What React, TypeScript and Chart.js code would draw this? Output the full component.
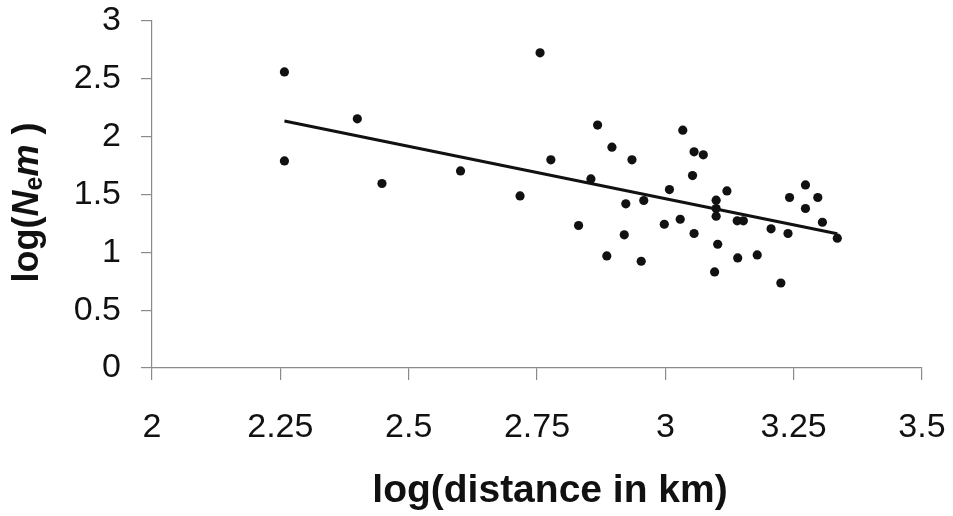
import React, { useEffect, useRef } from 'react';
import { Chart, registerables } from 'chart.js';

Chart.register(...registerables);

// log(distance in km)
const distanceLog = [
  2.258, 2.258, 2.400, 2.448, 2.601, 2.717, 2.756, 2.777, 2.831, 2.855,
  2.868, 2.886, 2.896, 2.920, 2.923, 2.935, 2.953, 2.958, 2.998, 3.008,
  3.029, 3.034, 3.053, 3.056, 3.056, 3.074, 3.096, 3.099, 3.099, 3.099,
  3.102, 3.120, 3.140, 3.152, 3.141, 3.179, 3.206, 3.225, 3.239, 3.242,
  3.273, 3.273, 3.297, 3.306, 3.335,
];

// log(Nem)
const nemLog = [
  2.56, 1.79, 2.154, 1.595, 1.704, 1.488, 2.725, 1.80, 1.232, 1.635,
  2.10, 0.969, 1.909, 1.151, 1.419, 1.80, 0.923, 1.448, 1.243, 1.543,
  1.286, 2.056, 1.664, 1.869, 1.163, 1.843, 0.831, 1.451, 1.379, 1.313,
  1.070, 1.531, 1.272, 1.272, 0.952, 0.978, 1.203, 0.735, 1.163, 1.474,
  1.583, 1.379, 1.474, 1.260, 1.122,
];

// trend line end points
const trendX = [2.258, 3.335];
const trendY = [2.135, 1.16];

const xTickLabels = ['2', '2.25', '2.5', '2.75', '3', '3.25', '3.5'];
const yTickLabels = ['0', '0.5', '1', '1.5', '2', '2.5', '3'];

const xAxisTitle = 'log(distance in km)';
const yAxisTitleParts = [
  { text: 'log(', italic: false, sub: false },
  { text: 'N', italic: true, sub: false },
  { text: 'e', italic: false, sub: true },
  { text: 'm', italic: true, sub: false },
  { text: ' )', italic: false, sub: false },
];

const FONT = '"Liberation Sans", Arial, Helvetica, sans-serif';
const AXIS_COLOR = '#8a8a8a';
const INK = '#111111';

function labelFor(list: string[], value: number) {
  const hit = list.find((l) => Math.abs(parseFloat(l) - value) < 1e-6);
  return hit !== undefined ? hit : '';
}

const axisTitlesPlugin = {
  id: 'axisTitles',
  afterDraw(chart: any) {
    const ctx = chart.ctx as CanvasRenderingContext2D;
    const area = chart.chartArea;
    ctx.save();
    ctx.fillStyle = INK;
    // x-axis title
    ctx.font = `bold 39px ${FONT}`;
    ctx.textAlign = 'center';
    ctx.textBaseline = 'alphabetic';
    ctx.fillText(xAxisTitle, (area.left + area.right) / 2 + 13, 502);

    // y-axis title (rotated, mixed styles)
    const mainSize = 36;
    const subSize = 25;
    const fontOf = (p: any) =>
      `${p.italic ? 'italic ' : ''}bold ${p.sub ? subSize : mainSize}px ${FONT}`;
    let total = 0;
    const widths = yAxisTitleParts.map((p) => {
      ctx.font = fontOf(p);
      const w = ctx.measureText(p.text).width;
      total += w;
      return w;
    });
    ctx.translate(38, (area.top + area.bottom) / 2 + 8);
    ctx.rotate(-Math.PI / 2);
    ctx.textAlign = 'left';
    let x = -total / 2;
    yAxisTitleParts.forEach((p, i) => {
      ctx.font = fontOf(p);
      ctx.fillText(p.text, x, p.sub ? 4 : 0);
      x += widths[i];
    });
    ctx.restore();
  },
};

const whiteBg = {
  id: 'whiteBg',
  beforeDraw(chart: any) {
    const ctx = chart.ctx;
    ctx.save();
    ctx.fillStyle = '#ffffff';
    ctx.fillRect(0, 0, chart.width, chart.height);
    ctx.restore();
  },
};

export default function App() {
  const canvasRef = useRef<HTMLCanvasElement | null>(null);

  useEffect(() => {
    if (!canvasRef.current) return;
    const points = distanceLog.map((x, i) => ({ x, y: nemLog[i] }));
    const trend = trendX.map((x, i) => ({ x, y: trendY[i] }));

    const chart = new Chart(canvasRef.current, {
      type: 'scatter',
      data: {
        datasets: [
          {
            type: 'line',
            label: 'Trend',
            data: trend,
            borderColor: INK,
            borderWidth: 3,
            pointRadius: 0,
            fill: false,
            tension: 0,
          } as any,
          {
            label: 'Populations',
            data: points,
            backgroundColor: INK,
            borderColor: INK,
            borderWidth: 0,
            pointRadius: 4.6,
            pointHoverRadius: 4.6,
          },
        ],
      },
      options: {
        animation: false,
        responsive: false,
        devicePixelRatio: 1,
        layout: { padding: { left: 0, right: 31, top: 21, bottom: 0 } },
        plugins: {
          legend: { display: false },
          tooltip: { enabled: false },
          title: { display: false },
        },
        scales: {
          x: {
            type: 'linear',
            min: 2,
            max: 3.5,
            afterFit: (scale: any) => {
              scale.height = 148;
              scale.paddingLeft = 0;
              scale.paddingRight = 0;
            },
            grid: {
              display: true,
              drawOnChartArea: false,
              drawTicks: true,
              tickLength: 12,
              color: AXIS_COLOR,
              lineWidth: 1.2,
            },
            border: { display: true, color: AXIS_COLOR, width: 1.2 },
            ticks: {
              stepSize: 0.25,
              padding: 27,
              color: INK,
              font: { family: FONT, size: 34, lineHeight: 1.2 },
              maxRotation: 0,
              autoSkip: false,
              callback: (v: any) => labelFor(xTickLabels, Number(v)),
            },
          },
          y: {
            type: 'linear',
            min: 0,
            max: 3,
            afterFit: (scale: any) => {
              scale.width = 152;
              scale.paddingTop = 0;
              scale.paddingBottom = 0;
            },
            grid: {
              display: true,
              drawOnChartArea: false,
              drawTicks: true,
              tickLength: 11,
              color: AXIS_COLOR,
              lineWidth: 1.2,
            },
            border: { display: true, color: AXIS_COLOR, width: 1.2 },
            ticks: {
              stepSize: 0.5,
              padding: 20,
              color: INK,
              font: { family: FONT, size: 34, lineHeight: 1.2 },
              autoSkip: false,
              callback: (v: any) => labelFor(yTickLabels, Number(v)),
            },
          },
        },
      },
      plugins: [whiteBg, axisTitlesPlugin],
    });
    return () => chart.destroy();
  }, []);

  return (
    <div
      style={{
        position: 'fixed',
        left: 0,
        top: 0,
        width: 953,
        height: 516,
        background: '#ffffff',
      }}
    >
      <canvas ref={canvasRef} width={953} height={516} style={{ display: 'block' }} />
    </div>
  );
}
